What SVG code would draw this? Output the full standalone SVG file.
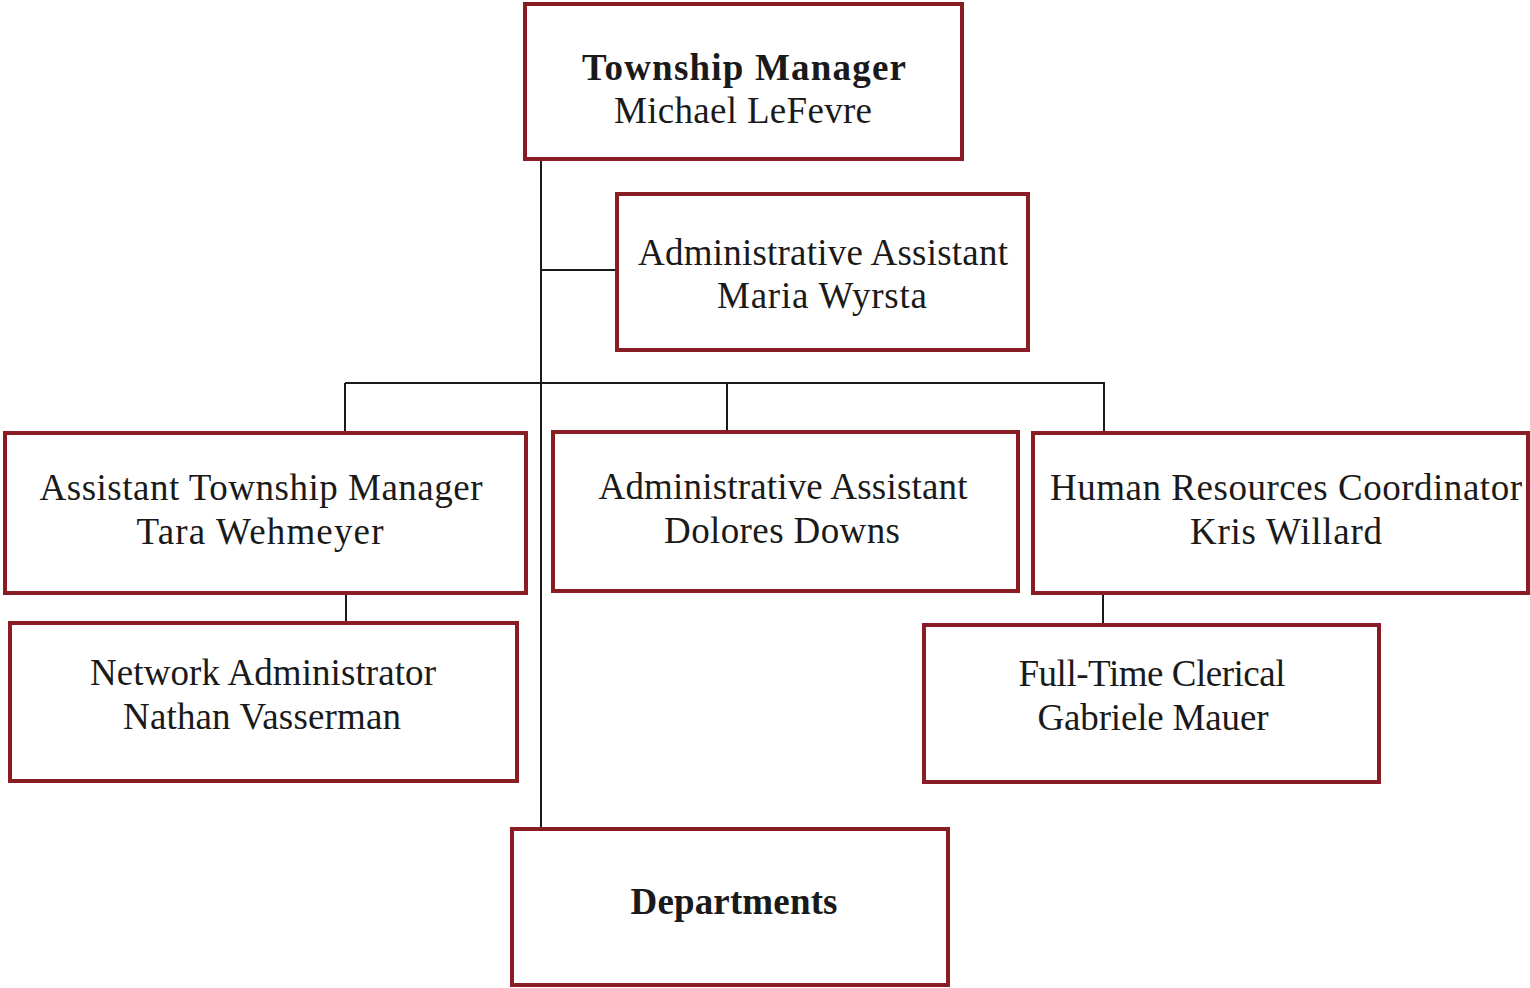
<svg xmlns="http://www.w3.org/2000/svg" width="1530" height="988" viewBox="0 0 1530 988">
  <style>
    .box { fill: #ffffff; stroke: #8a1c24; stroke-width: 4; }
    .link { stroke: #1a1a1a; stroke-width: 2; fill: none; }
    text { font-family: "Liberation Serif", "Times New Roman", serif; font-size: 37px; fill: #1a1a1a; text-anchor: middle; }
    .bold { font-weight: bold; }
  </style>
  <rect width="1530" height="988" fill="#ffffff"/>

  <!-- reporting lines -->
  <g id="connectors">
    <line class="link" x1="541" y1="159" x2="541" y2="827"/>
    <line class="link" x1="541" y1="270" x2="617" y2="270"/>
    <line class="link" x1="345" y1="383" x2="1105" y2="383"/>
    <line class="link" x1="345" y1="383" x2="345" y2="433"/>
    <line class="link" x1="727" y1="383" x2="727" y2="432"/>
    <line class="link" x1="1104" y1="383" x2="1104" y2="433"/>
    <line class="link" x1="346" y1="593" x2="346" y2="623"/>
    <line class="link" x1="1103" y1="593" x2="1103" y2="625"/>
  </g>

  <g id="township-manager">
    <rect class="box" x="525" y="4" width="437" height="155"/>
    <text class="bold" x="744" y="80" textLength="324" lengthAdjust="spacing">Township  Manager</text>
    <text x="743" y="123" textLength="258" lengthAdjust="spacing">Michael LeFevre</text>
  </g>

  <g id="admin-assistant-wyrsta">
    <rect class="box" x="617" y="194" width="411" height="156"/>
    <text x="823" y="265" textLength="370" lengthAdjust="spacing">Administrative Assistant</text>
    <text x="822" y="308" textLength="210" lengthAdjust="spacing">Maria Wyrsta</text>
  </g>

  <g id="assistant-manager">
    <rect class="box" x="5" y="433" width="521" height="160"/>
    <text x="261" y="500" textLength="443" lengthAdjust="spacing">Assistant Township Manager</text>
    <text x="260" y="544" textLength="247" lengthAdjust="spacing">Tara Wehmeyer</text>
  </g>

  <g id="admin-assistant-downs">
    <rect class="box" x="553" y="432" width="465" height="159"/>
    <text x="783" y="499" textLength="369" lengthAdjust="spacing">Administrative Assistant</text>
    <text x="782" y="543" textLength="236" lengthAdjust="spacing">Dolores Downs</text>
  </g>

  <g id="hr-coordinator">
    <rect class="box" x="1033" y="433" width="495" height="160"/>
    <text x="1286" y="500" textLength="472" lengthAdjust="spacing">Human Resources Coordinator</text>
    <text x="1286" y="544" textLength="192" lengthAdjust="spacing">Kris Willard</text>
  </g>

  <g id="network-admin">
    <rect class="box" x="10" y="623" width="507" height="158"/>
    <text x="263" y="685" textLength="346" lengthAdjust="spacing">Network Administrator</text>
    <text x="262" y="729" textLength="278" lengthAdjust="spacing">Nathan Vasserman</text>
  </g>

  <g id="clerical">
    <rect class="box" x="924" y="625" width="455" height="157"/>
    <text x="1152" y="686" textLength="267" lengthAdjust="spacing">Full-Time Clerical</text>
    <text x="1153" y="730" textLength="231" lengthAdjust="spacing">Gabriele Mauer</text>
  </g>

  <g id="departments">
    <rect class="box" x="512" y="829" width="436" height="156"/>
    <text class="bold" x="734" y="914" textLength="207" lengthAdjust="spacing">Departments</text>
  </g>
</svg>
